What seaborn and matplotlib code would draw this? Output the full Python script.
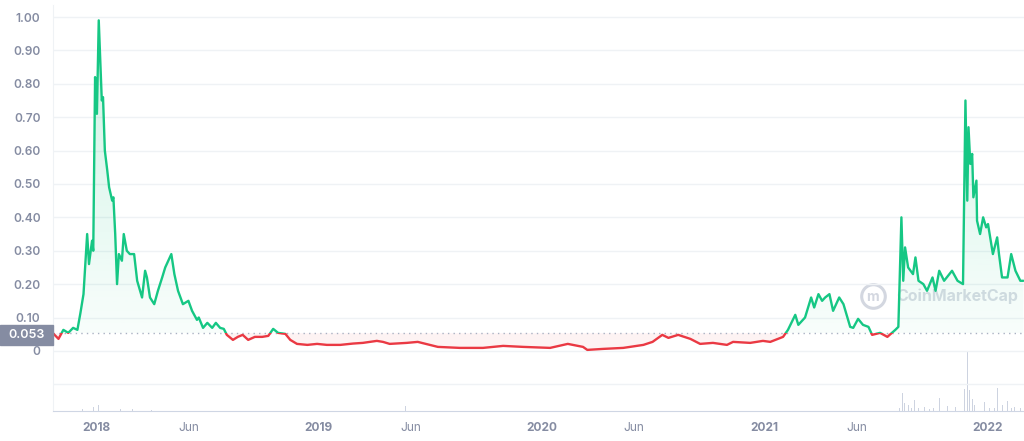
"""Price chart with baseline colouring and a volume strip, CoinMarketCap style."""
import matplotlib

matplotlib.use("Agg")
import matplotlib.colors as mcolors
import matplotlib.dates as mdates
import matplotlib.pyplot as plt
import numpy as np
import pandas as pd
import seaborn as sns
from matplotlib.patches import Rectangle
from matplotlib.path import Path

# --- data ------------------------------------------------------------------
price_dates = [
    "2017-10-23", "2017-10-31", "2017-11-08", "2017-11-16", "2017-11-24",
    "2017-12-01", "2017-12-06", "2017-12-11", "2017-12-14", "2017-12-17",
    "2017-12-20", "2017-12-25", "2017-12-27", "2017-12-30", "2018-01-02",
    "2018-01-05", "2018-01-10", "2018-01-12", "2018-01-15", "2018-01-19",
    "2018-01-22", "2018-01-27", "2018-01-29", "2018-02-01", "2018-02-04",
    "2018-02-07", "2018-02-12", "2018-02-15", "2018-02-20", "2018-02-25",
    "2018-03-04", "2018-03-09", "2018-03-17", "2018-03-22", "2018-03-25",
    "2018-03-30", "2018-04-06", "2018-04-12", "2018-04-19", "2018-04-24",
    "2018-04-29", "2018-05-04", "2018-05-09", "2018-05-15", "2018-05-23",
    "2018-06-01", "2018-06-07", "2018-06-15", "2018-06-18", "2018-06-25",
    "2018-07-02", "2018-07-10", "2018-07-16", "2018-07-23", "2018-07-29",
    "2018-08-03", "2018-08-13", "2018-08-21", "2018-08-29", "2018-09-07",
    "2018-09-18", "2018-09-30", "2018-10-10", "2018-10-18", "2018-10-26",
    "2018-11-07", "2018-11-15", "2018-11-26", "2018-12-13", "2018-12-29",
    "2019-01-14", "2019-02-05", "2019-02-26", "2019-03-14", "2019-04-06",
    "2019-04-16", "2019-04-27", "2019-05-25", "2019-06-12", "2019-07-15",
    "2019-08-20", "2019-09-27", "2019-10-30", "2019-12-02", "2020-01-15",
    "2020-02-13", "2020-03-09", "2020-03-16", "2020-04-11", "2020-05-14",
    "2020-06-16", "2020-07-01", "2020-07-17", "2020-07-27", "2020-08-12",
    "2020-09-01", "2020-09-17", "2020-10-08", "2020-10-31", "2020-11-10",
    "2020-12-08", "2020-12-29", "2021-01-10", "2021-01-31", "2021-02-08",
    "2021-02-20", "2021-02-25", "2021-03-08", "2021-03-18", "2021-03-23",
    "2021-03-30", "2021-04-05", "2021-04-10", "2021-04-17", "2021-04-23",
    "2021-05-03", "2021-05-10", "2021-05-21", "2021-05-26", "2021-06-03",
    "2021-06-11", "2021-06-20", "2021-06-26", "2021-07-09", "2021-07-21",
    "2021-08-03", "2021-08-08", "2021-08-13", "2021-08-16", "2021-08-19",
    "2021-08-24", "2021-09-01", "2021-09-05", "2021-09-10", "2021-09-18",
    "2021-09-24", "2021-10-03", "2021-10-08", "2021-10-14", "2021-10-22",
    "2021-11-04", "2021-11-13", "2021-11-22", "2021-11-26", "2021-11-29",
    "2021-12-01", "2021-12-04", "2021-12-07", "2021-12-09", "2021-12-14",
    "2021-12-15", "2021-12-20", "2021-12-25", "2021-12-30", "2022-01-02",
    "2022-01-10", "2022-01-17", "2022-01-20", "2022-01-25", "2022-02-03",
    "2022-02-09", "2022-02-16", "2022-02-24", "2022-03-01",
]
price_values = [
    0.051, 0.036, 0.063, 0.054, 0.069,
    0.063, 0.114, 0.17, 0.26, 0.35,
    0.26, 0.33, 0.30, 0.82, 0.71,
    0.99, 0.75, 0.76, 0.60, 0.54,
    0.49, 0.45, 0.46, 0.35, 0.20,
    0.29, 0.27, 0.35, 0.30, 0.29,
    0.29, 0.21, 0.16, 0.24, 0.22,
    0.16, 0.14, 0.18, 0.22, 0.25,
    0.27, 0.29, 0.23, 0.18, 0.14,
    0.15, 0.12, 0.093, 0.10, 0.069,
    0.084, 0.069, 0.084, 0.069, 0.066,
    0.048, 0.033, 0.042, 0.048, 0.033,
    0.042, 0.042, 0.045, 0.066, 0.054,
    0.051, 0.033, 0.021, 0.018, 0.021,
    0.018, 0.018, 0.022, 0.024, 0.030,
    0.027, 0.021, 0.024, 0.027, 0.012,
    0.009, 0.009, 0.015, 0.012, 0.009,
    0.021, 0.012, 0.003, 0.006, 0.009,
    0.018, 0.027, 0.048, 0.039, 0.048,
    0.036, 0.021, 0.024, 0.018, 0.027,
    0.024, 0.030, 0.027, 0.042, 0.063,
    0.108, 0.078, 0.10, 0.16, 0.13,
    0.17, 0.15, 0.16, 0.17, 0.12,
    0.16, 0.14, 0.072, 0.069, 0.096,
    0.078, 0.072, 0.048, 0.054, 0.042,
    0.063, 0.072, 0.40, 0.21, 0.31,
    0.25, 0.23, 0.28, 0.21, 0.20,
    0.18, 0.22, 0.18, 0.24, 0.21,
    0.24, 0.21, 0.20, 0.75, 0.45,
    0.67, 0.56, 0.59, 0.46, 0.51,
    0.39, 0.35, 0.40, 0.37, 0.38,
    0.29, 0.34, 0.29, 0.22, 0.22,
    0.29, 0.24, 0.21, 0.21,
]

# 24h volume, millions USD (approximate)
volume_dates = [
    "2017-12-10", "2017-12-20", "2017-12-28", "2018-01-02", "2018-01-05",
    "2018-01-12", "2018-01-25", "2018-02-10", "2018-03-01", "2018-04-01",
    "2019-05-23", "2021-08-10", "2021-08-15", "2021-08-18", "2021-08-24",
    "2021-08-30", "2021-09-03", "2021-09-10", "2021-09-20", "2021-09-28",
    "2021-10-05", "2021-10-14", "2021-10-17", "2021-10-28", "2021-11-04",
    "2021-11-10", "2021-11-17", "2021-11-24", "2021-11-27", "2021-11-30",
    "2021-12-03", "2021-12-08", "2021-12-11", "2021-12-15", "2021-12-20",
    "2021-12-27", "2022-01-05", "2022-01-12", "2022-01-18", "2022-01-26",
    "2022-02-03", "2022-02-09", "2022-02-15", "2022-02-24",
]
volume_values = [
    20, 30, 40, 100, 60,
    40, 30, 20, 20, 15,
    50, 30, 180, 80, 60,
    30, 110, 30, 40, 25,
    30, 130, 110, 50, 30,
    40, 30, 220, 310, 600,
    210, 120, 60, 80, 40,
    90, 30, 30, 230, 60,
    100, 30, 40, 30,
]

base_price = 0.053
y_ticks = [-0.1, 0, 0.1, 0.2, 0.3, 0.4, 0.5, 0.6, 0.7, 0.8, 0.9, 1.0]
y_tick_labels = ["", "0", "0.10", "0.20", "0.30", "0.40", "0.50",
                 "0.60", "0.70", "0.80", "0.90", "1.00"]
x_tick_dates = ["2018-01-01", "2018-06-01", "2019-01-01", "2019-06-01",
                "2020-01-01", "2020-06-01", "2021-01-01", "2021-06-01",
                "2022-01-01"]
x_tick_labels = ["2018", "Jun", "2019", "Jun", "2020", "Jun", "2021", "Jun", "2022"]

GREEN = "#16C784"
RED = "#EA3943"
GRID = "#EFF2F5"
LABEL = "#858CA2"

W, H = 1024, 441


def main() -> None:
    sns.set_style("white")
    plt.rcParams["font.family"] = ["Inter", "DejaVu Sans"]

    df = pd.DataFrame({"date": pd.to_datetime(price_dates), "price": price_values})
    vol = pd.DataFrame({"date": pd.to_datetime(volume_dates), "volume": volume_values})

    fig = plt.figure(figsize=(W / 100, H / 100), dpi=100)
    ax = fig.add_axes([53 / W, 30 / H, (W - 53) / W, 406 / H])

    xlim = mdates.date2num(pd.to_datetime(["2017-10-22", "2022-03-02"]))
    ylim = (-0.18, 1.036)

    # volume strip on a twin axis behind the price
    ax_vol = ax.twinx()
    ax_vol.set_zorder(ax.get_zorder() - 1)
    ax.patch.set_visible(False)
    ax_vol.bar(mdates.date2num(vol["date"]), vol["volume"], width=1.3,
               color="#CDD3E0", linewidth=0)
    ax_vol.set_ylim(0, 600 * 406 / 60)
    ax_vol.axis("off")

    x = mdates.date2num(df["date"])
    y = df["price"].to_numpy()

    # green gradient fill above the baseline
    above = ax.fill_between(x, y, base_price, where=y >= base_price,
                            interpolate=True, color="none", linewidth=0)
    clip = Path.make_compound_path(*above.get_paths())
    grad = np.zeros((256, 1, 4))
    grad[..., :3] = mcolors.to_rgb(GREEN)
    grad[..., 3] = np.linspace(0.22, 0.03, 256)[:, None]
    im = ax.imshow(grad, extent=[xlim[0], xlim[1], base_price, 1.0],
                   origin="upper", aspect="auto", zorder=1)
    im.set_clip_path(clip, ax.transData)

    # light red fill below the baseline
    ax.fill_between(x, y, base_price, where=y <= base_price, interpolate=True,
                    color=RED, alpha=0.06, linewidth=0, zorder=1)

    # price line drawn twice, clipped at the baseline
    for colour, lo, hi in [(GREEN, base_price, 2.0), (RED, -1.0, base_price)]:
        sns.lineplot(data=df, x="date", y="price", color=colour, linewidth=1.7,
                     ax=ax, zorder=3)
        line = ax.lines[-1]
        rect = Rectangle((xlim[0], lo), xlim[1] - xlim[0], hi - lo,
                         transform=ax.transData)
        line.set_clip_path(rect)

    ax.axhline(base_price, color="#A9B1C2", linestyle=(0, (1, 3)), linewidth=1,
               zorder=2)

    ax.set_xlim(*xlim)
    ax.set_ylim(*ylim)
    ax.set_xlabel("")
    ax.set_ylabel("")

    ax.set_yticks(y_ticks)
    ax.set_yticklabels(y_tick_labels)
    ax.yaxis.grid(True, color=GRID, linewidth=1)
    ax.xaxis.grid(False)
    ax.set_axisbelow(True)
    ax.tick_params(axis="y", length=0, pad=9, labelsize=8.6, labelcolor=LABEL)

    ax.set_xticks(mdates.date2num(pd.to_datetime(x_tick_dates)))
    ax.set_xticklabels(x_tick_labels)
    ax.tick_params(axis="x", length=4, width=1, color="#CFD6E4", pad=4,
                   labelsize=8.6, labelcolor=LABEL)
    for lab in ax.get_xticklabels():
        if lab.get_text() != "Jun":
            lab.set_fontweight("bold")
    for lab in ax.get_yticklabels():
        lab.set_fontweight("semibold")

    for side in ["top", "right"]:
        ax.spines[side].set_visible(False)
    ax.spines["left"].set_color(GRID)
    ax.spines["bottom"].set_color("#CFD6E4")

    # watermark
    ax.plot([0.844], [0.283], transform=ax.transAxes, marker="o", markersize=17,
            markerfacecolor="none", markeredgecolor="#D3D7E0",
            markeredgewidth=2.2, zorder=0)
    ax.text(0.844, 0.281, "m", transform=ax.transAxes, fontsize=10,
            fontweight="bold", color="#D3D7E0", va="center", ha="center", zorder=0)
    ax.text(0.868, 0.283, "CoinMarketCap", transform=ax.transAxes, fontsize=11.5,
            fontweight="bold", color="#D8DCE4", va="center", ha="left", zorder=0)

    # baseline price badge on the y axis
    fig.add_artist(Rectangle((0, (H - 345) / H), 53 / W, 20 / H,
                             transform=fig.transFigure, color="#858CA2"))
    fig.text(27 / W, (H - 335) / H, "0.053", color="white", fontsize=9,
             fontweight="semibold", ha="center", va="center")

    fig.savefig("out.png", dpi=100)


if __name__ == "__main__":
    main()
